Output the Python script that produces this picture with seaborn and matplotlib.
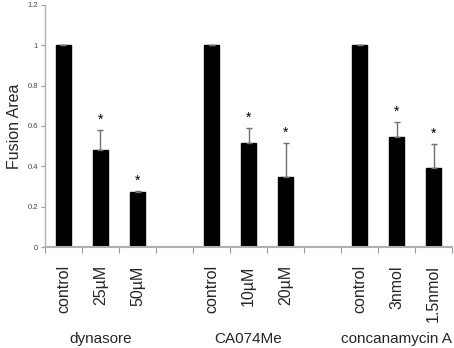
import numpy as np
import pandas as pd
import matplotlib
matplotlib.use('Agg')
import matplotlib.pyplot as plt
import seaborn as sns

# 막대 데이터
labels = ['control', '25µM', '50µM',
          'control', '10µM', '20µM',
          'control', '3nmol', '1.5nmol']
positions = [0, 1, 2, 4, 5, 6, 8, 9, 10]
fusion = [1.0, 0.48, 0.275, 1.0, 0.517, 0.345, 1.0, 0.547, 0.394]
err_up = [0.0, 0.10, 0.005, 0.0, 0.075, 0.172, 0.0, 0.073, 0.116]
signif = [False, True, True, False, True, True, False, True, True]
groups = ['dynasore', 'CA074Me', 'concanamycin A']
group_pos = [1, 5, 9]

sns.set_style('white')
plt.rcParams['font.family'] = ['Liberation Sans', 'DejaVu Sans']

df = pd.DataFrame({'pos': positions, 'fusion': fusion})

fig = plt.figure(figsize=(4.54, 3.48), dpi=100)
ax = fig.add_axes([0.099, 0.290, 0.897, 0.696])

sns.barplot(data=df, x='pos', y='fusion', native_scale=True, width=0.4,
            color='black', edgecolor='black', saturation=1, errorbar=None, ax=ax)

# 위쪽 방향 오차막대
ax.errorbar(positions, fusion, yerr=[np.zeros(len(err_up)), err_up], fmt='none',
            ecolor='#6e6e6e', elinewidth=1, capsize=2.5, capthick=1)

# 유의성 별표
for p, v, e, s in zip(positions, fusion, err_up, signif):
    if s:
        ax.text(p, v + e + 0.05, '*', ha='center', va='center', fontsize=10, color='black')

ax.set_xlim(-0.5, 10.5)
ax.set_ylim(0, 1.2)
ax.set_yticks([0, 0.2, 0.4, 0.6, 0.8, 1.0, 1.2], ['0', '0.2', '0.4', '0.6', '0.8', '1', '1.2'])
ax.tick_params(axis='y', labelsize=5.5, labelcolor='#444444', length=3, width=0.8,
               color='#999999', left=True, pad=2)

ax.set_xticks(positions, labels, rotation=90, fontsize=11.5)
ax.set_xticks(np.arange(-0.5, 11, 1), minor=True)
ax.tick_params(axis='x', which='major', length=0, pad=13)
ax.tick_params(axis='x', which='minor', length=4, width=0.8, color='#999999', bottom=True)
ax.set_xlabel('')

ax.set_ylabel('Fusion Area', fontsize=11.5, labelpad=4)

for sp in ['top', 'right']:
    ax.spines[sp].set_visible(False)
ax.spines['left'].set_color('#b0b0b0')
ax.spines['left'].set_linewidth(1)
ax.spines['bottom'].set_color('#b0b0b0')
ax.spines['bottom'].set_linewidth(1.5)

for g, gp in zip(groups, group_pos):
    ax.annotate(g, xy=(gp, 0), xycoords=('data', 'axes fraction'), xytext=(0, -66),
                textcoords='offset points', ha='center', va='center', fontsize=11)

fig.savefig('out.png', dpi=100)
